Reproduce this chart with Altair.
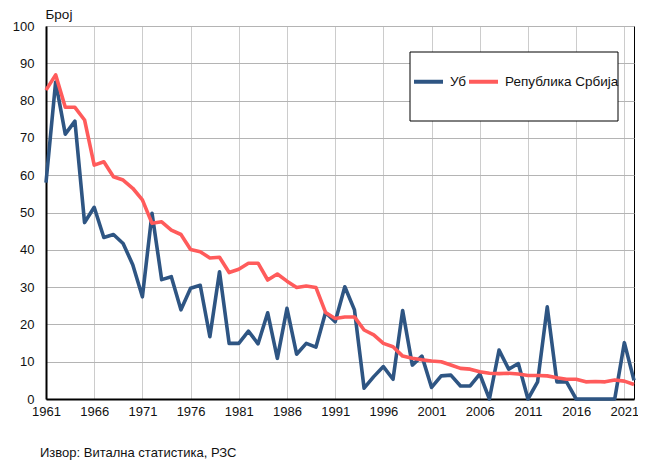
import altair as alt
import pandas as pd

years = list(range(1961, 2023))

ub = [58, 85, 71, 74.5, 47.3, 51.4, 43.3, 44.1, 41.7, 36, 27.4, 49.8, 32, 32.8, 23.9,
      29.7, 30.5, 16.7, 34.1, 14.9, 14.9, 18.2, 14.8, 23.1, 10.9, 24.3, 12, 14.9, 13.9,
      23.2, 20.7, 30.1, 23.9, 2.9, 6, 8.7, 5.3, 23.7, 9.1, 11.5, 3.1, 6.2, 6.4, 3.5, 3.5,
      6.7, 0, 13.1, 8, 9.5, 0, 4.6, 24.7, 4.6, 4.6, 0, 0, 0, 0, 0, 15.1, 5]

srbija = [82.8, 86.9, 78.2, 78.2, 74.8, 62.7, 63.6, 59.6, 58.7, 56.5, 53.4, 47.1, 47.5,
          45.3, 44.1, 40.1, 39.5, 37.8, 38, 33.9, 34.8, 36.4, 36.4, 31.9, 33.5, 31.6, 29.9,
          30.3, 29.9, 23.2, 21.6, 22, 22, 18.5, 17.2, 14.9, 14, 11.5, 10.9, 10.5, 10.2, 10,
          9.1, 8.2, 8, 7.3, 6.9, 6.8, 6.9, 6.7, 6.3, 6.3, 6.2, 5.7, 5.3, 5.3, 4.6, 4.7, 4.6,
          5.1, 4.8, 3.9]

series_names = ["Уб", "Република Србија"]
series_colors = ["#2e5583", "#ff5b5b"]
x_ticks = list(range(1961, 2022, 5))
y_ticks = list(range(0, 101, 10))

df = pd.DataFrame({
    "year": years * 2,
    "value": ub + srbija,
    "series": [series_names[0]] * len(years) + [series_names[1]] * len(years),
    "order": [0] * len(years) + [1] * len(years),
})

FONT = "Liberation Sans"

box = alt.Chart(pd.DataFrame({"k": [0]})).mark_rect(
    fill="white", stroke="black", strokeWidth=1
).encode(
    x=alt.value(364), x2=alt.value(572), y=alt.value(26), y2=alt.value(95)
)

lines = alt.Chart(df).mark_line(strokeWidth=3.6, strokeJoin="round").encode(
    x=alt.X("year:Q",
            scale=alt.Scale(domain=[1961, 2022], nice=False, zero=False),
            axis=alt.Axis(values=x_ticks, format="d", title=None, ticks=False,
                          labelFlush=False, domainColor="black", domainWidth=2,
                          gridColor="#cccccc", labelFontSize=13, labelColor="#111",
                          labelPadding=6, labelFont=FONT)),
    y=alt.Y("value:Q",
            scale=alt.Scale(domain=[0, 100], nice=False),
            axis=alt.Axis(values=y_ticks, title="Број", titleAngle=0, titleAlign="left",
                          titleX=-1, titleY=-8, titleBaseline="alphabetic",
                          titleFontSize=13.5, titleFontWeight="normal", titleColor="#111",
                          titleFont=FONT, ticks=False, domainColor="black", domainWidth=2,
                          gridColor="#b4b4b4", labelFontSize=13, labelColor="#111",
                          labelPadding=12, labelFont=FONT)),
    color=alt.Color("series:N",
                    scale=alt.Scale(domain=series_names, range=series_colors),
                    sort=series_names,
                    legend=alt.Legend(orient="none", legendX=366, legendY=39,
                                      direction="horizontal", title=None,
                                      symbolType="stroke", symbolStrokeWidth=4,
                                      symbolSize=841, labelFontSize=13.5, labelFont=FONT,
                                      labelColor="#111", labelOffset=5,
                                      columnPadding=-8, padding=0)),
    order=alt.Order("order:Q"),
)

chart = alt.layer(box, lines).properties(
    width=588, height=373,
    autosize=alt.AutoSizeParams(type="none"),
    padding={"left": 38, "top": 18, "right": 4, "bottom": 66},
    title=alt.TitleParams("Извор: Витална статистика, РЗС", orient="bottom",
                          anchor="start", frame="group", dx=-6, offset=29,
                          fontSize=13, fontWeight="normal", font=FONT, color="#111"),
).configure_view(stroke="black", strokeWidth=1)

chart.save("out.html", embed_options={"renderer": "svg", "actions": False})
